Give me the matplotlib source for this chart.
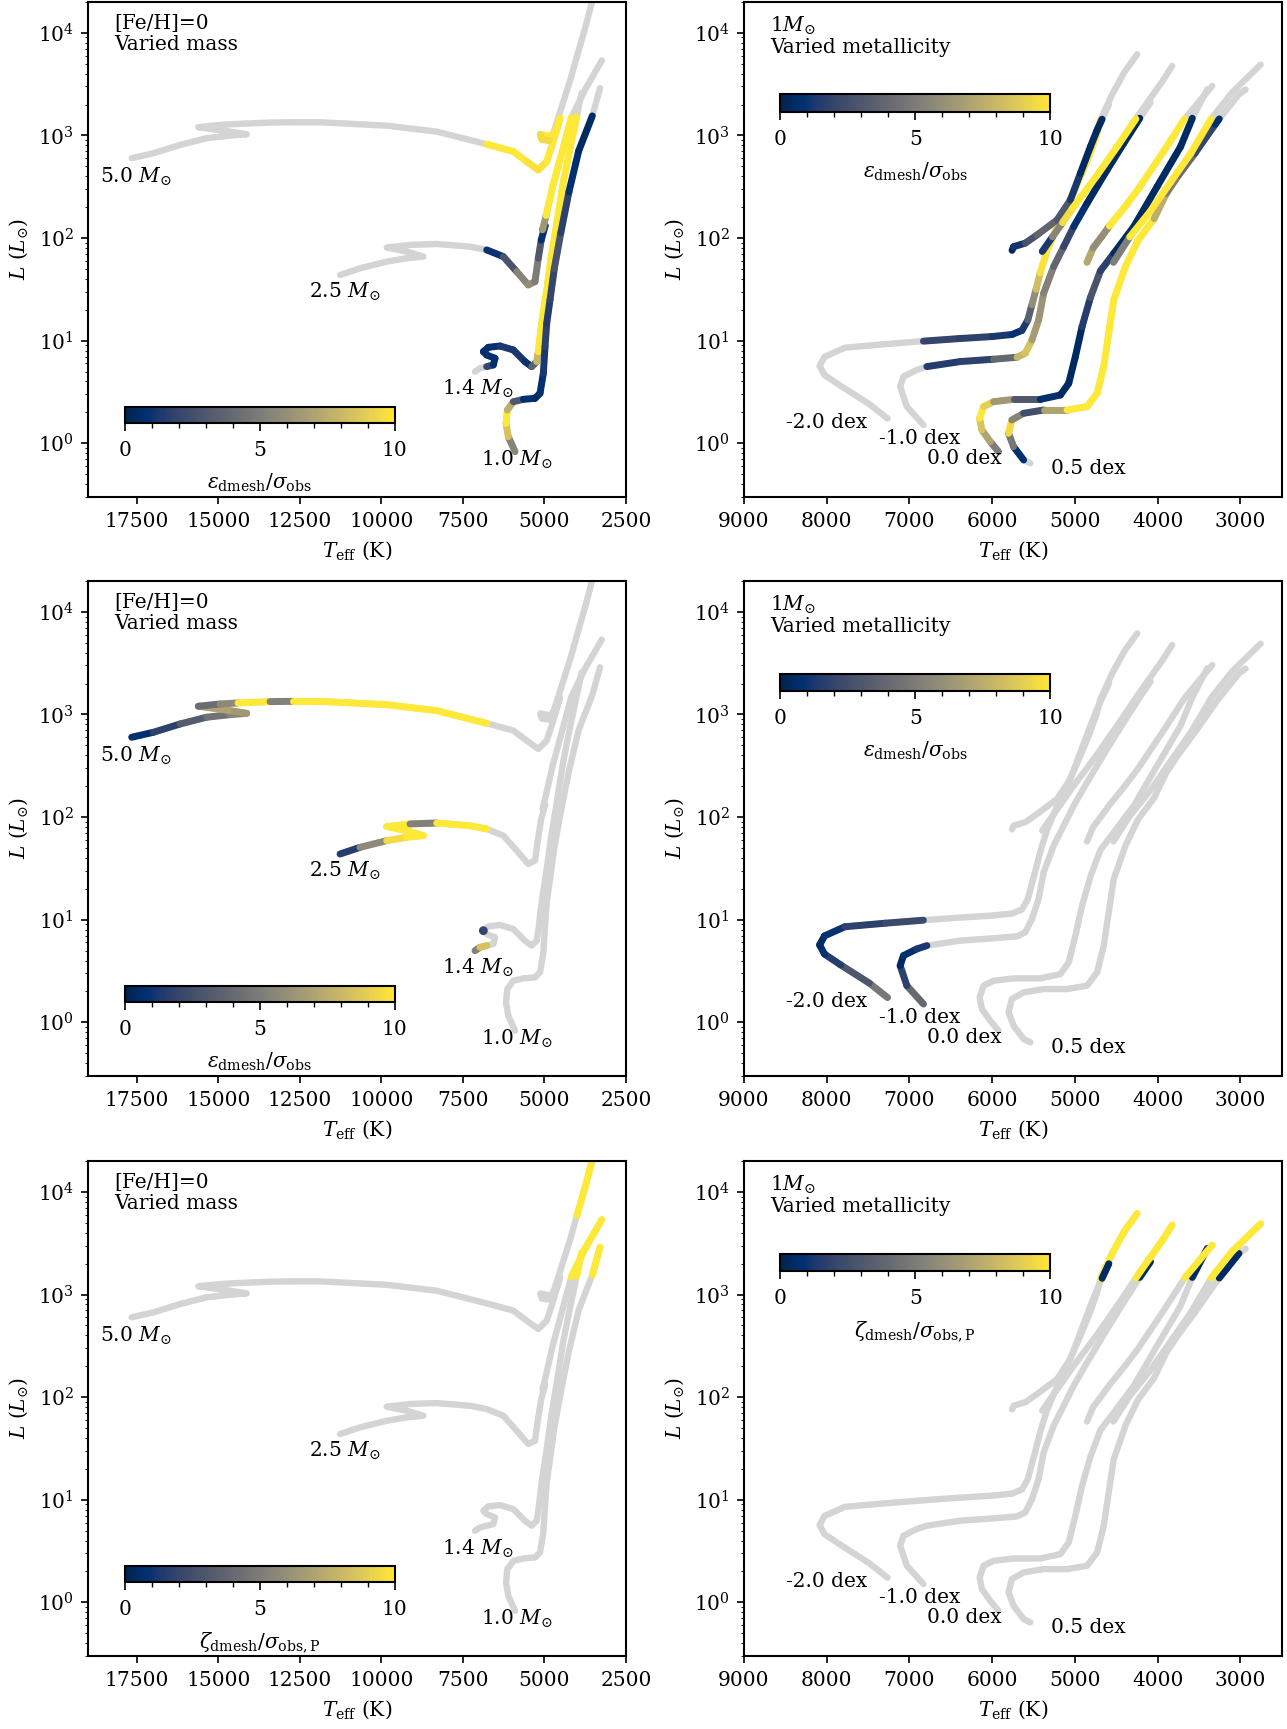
import numpy as np
import matplotlib.pyplot as plt
from matplotlib.collections import LineCollection
from matplotlib.cm import ScalarMappable
from matplotlib.colors import Normalize
from matplotlib.ticker import MultipleLocator

plt.rcParams['font.family'] = ['DejaVu Serif']
plt.rcParams['mathtext.fontset'] = 'dejavuserif'
plt.rcParams['font.size'] = 14.5
plt.rcParams['xtick.major.size'] = 5
plt.rcParams['ytick.major.size'] = 5
plt.rcParams['xtick.major.pad'] = 6
plt.rcParams['ytick.major.pad'] = 5
plt.rcParams['xtick.major.width'] = 1.2
plt.rcParams['ytick.major.width'] = 1.2
plt.rcParams['axes.labelpad'] = 6

nan = np.nan

# ---------------- varied mass tracks ([Fe/H]=0) ----------------
# Teff (K), log10 L/Lsun, colour value for row 1, row 2, row 3 (nan = grey only)
m50_teff = [17660, 16997, 16178, 15360, 14645, 14133, 14700, 15617, 14952, 14400, 13418, 13045,
            12700, 11885, 9839, 8305, 6772, 5955, 5546, 5190, 4932, 4730, 4525, 4640, 4800,
            5130, 5080, 4850, 4700, 4420, 4200, 4006, 3750, 3543, 3300]
m50_logl = [2.778, 2.826, 2.907, 2.973, 2.998, 3.011, 3.040, 3.080, 3.102, 3.112, 3.125, 3.127,
            3.128, 3.128, 3.095, 3.037, 2.914, 2.843, 2.745, 2.664, 2.745, 2.940, 3.167, 3.05, 2.99,
            3.01, 2.96, 2.95, 3.05, 3.33, 3.55, 3.77, 4.05, 4.30, 4.61]
m50_row1 = [nan] * 16 + [10, 10, 10, 9.5, 10, 10, 10, 10, 10, 10, 9, 10] + [nan] * 7
m50_row2 = [0.5, 1, 2.5, 4, 5, 6, 7, 7, 1.5, 10, 10, 0.5, 10, 10, 10, 10, 10] + [nan] * 18
m50_row3 = [nan] * 31 + [10, 10, 10, 10]

m25_teff = [11271, 10658, 9839, 9226, 8714, 9226, 9839, 9124, 8525, 8305, 7284, 6772, 6262,
            5853, 5497, 5292, 5190, 5100, 4980, 5060, 4950, 4750, 4450, 4180, 3750, 3242]
m25_logl = [1.640, 1.705, 1.770, 1.803, 1.819, 1.868, 1.907, 1.933, 1.940, 1.942, 1.916, 1.884,
            1.819, 1.673, 1.543, 1.575, 1.803, 1.98, 2.12, 2.08, 2.22, 2.50, 2.85, 3.17, 3.45, 3.73]
m25_row1 = [nan] * 11 + [0.5, 1.5, 4, 7, 5, 5, 1, 0.5, 3, 10, 10, 10, 10, nan, nan]
m25_row2 = [0.5, 2.5, 9, 10, 10, 10, 10, 10, 0.5, 10, 10, 10] + [nan] * 14
m25_row3 = [nan] * 23 + [10, 10, 10]

m14_teff = [7131, 6977, 6772, 6568, 6517, 6772, 6875, 6722, 6364, 5955, 5598, 5393, 5240, 5190,
            5088, 4932, 4800, 4620, 4420, 4200, 4013, 3860]
m14_logl = [0.698, 0.731, 0.747, 0.763, 0.828, 0.860, 0.893, 0.935, 0.948, 0.909, 0.795, 0.747,
            0.795, 0.893, 1.169, 1.494, 1.80, 2.15, 2.55, 2.90, 3.18, 3.41]
m14_row1 = [nan, nan, 3, 1, 0.5, 1, 1, 0.5, 1, 1.5, 1, 1, 6, 10, 10, 10, 10, 10, 10, 10, 10, nan]
m14_row2 = [1.5, 9, 8, nan, nan, nan, 2] + [nan] * 15
m14_row3 = [nan] * 20 + [10, 10]

m10_teff = [5904, 6109, 6180, 6140, 5955, 5648, 5290, 5137, 5035, 4984, 4932, 4830, 4700, 4500,
            4250, 3950, 3533, 3297]
m10_logl = [-0.082, 0.064, 0.194, 0.324, 0.405, 0.428, 0.438, 0.487, 0.682, 0.941, 1.169, 1.397,
            1.70, 2.05, 2.45, 2.85, 3.19, 3.46]
m10_row1 = [4, 7, 10, 10, 5, 1, 0.5, 0.5, 1, 1.5, 2, 1, 3, 2.5, 1, 0.5, 0.5, nan]
m10_row2 = [nan] * 18
m10_row3 = [nan] * 16 + [10, 10]

mass_labels = ['5.0 $M_{\\odot}$', '2.5 $M_{\\odot}$', '1.4 $M_{\\odot}$', '1.0 $M_{\\odot}$']
mass_label_teff = [18620, 12228, 8137, 6953]
mass_label_logl = [2.600, 1.472, 0.526, -0.162]

# ---------------- varied metallicity tracks (1 Msun) ----------------
z20_teff = [7264, 7485, 7830, 8026, 8085, 8026, 7780, 7289, 6831, 6400, 6000, 5760, 5640, 5570,
            5520, 5470, 5420, 5340, 5230, 5100, 4960, 4830, 4740, 4692, 4550, 4400, 4248]
z20_logl = [0.241, 0.382, 0.559, 0.665, 0.754, 0.842, 0.931, 0.966, 0.995, 1.020, 1.040, 1.060,
            1.100, 1.200, 1.350, 1.500, 1.660, 1.870, 2.080, 2.300, 2.550, 2.800, 3.000, 3.150,
            3.400, 3.620, 3.790]
z20_row1 = [nan] * 8 + [2, 2, 1.5, 1, 0.5, 2, 5, 7, 9.5, 10, 10, 10, 10, 10, 10, 10, nan, nan, nan]
z20_row2 = [5.5, 4, 2, 1, 0.5, 0.5, 1.5, 2, 2.5] + [nan] * 18
z20_row3 = [nan] * 23 + [10, 10, 10, 10]

a20_teff = [5760, 5741, 5600, 5458, 5216, 5055, 4934, 4813, 4732, 4672, 4590]
a20_logl = [1.880, 1.916, 1.950, 2.030, 2.176, 2.371, 2.631, 2.890, 3.053, 3.158, 3.300]
a20_row1 = [0.3, 0.3, 2, 3.5, 4, 2, 0.5, 0.5, 0.5, 0.5, nan]
a20_row2 = [nan] * 11
a20_row3 = [nan] * 9 + [0.5, 0.5]

z10_teff = [6830, 7031, 7112, 7072, 6910, 6789, 6386, 5983, 5700, 5600, 5519, 5439, 5378, 5257,
            5136, 5015, 4853, 4611, 4410, 4217, 4087]
z10_logl = [0.178, 0.357, 0.552, 0.650, 0.715, 0.747, 0.796, 0.819, 0.838, 0.877, 1.007, 1.202,
            1.462, 1.722, 1.916, 2.111, 2.339, 2.664, 2.924, 3.167, 3.320]
z10_row1 = [nan] * 5 + [1.5, 1.5, 2, 6, 10, 7, 6.5, 6, 4.5, 3, 1, 0.5, 0.5, 0.5, 0.5, nan]
z10_row2 = [5, 3, 0.5, 0.5, 1, 1.5] + [nan] * 15
z10_row3 = [nan] * 19 + [0.5, 0.5]

a10_teff = [5395, 5272, 5150, 5026, 4880, 4731, 4485, 4264, 4100, 3950, 3825]
a10_logl = [1.869, 2.011, 2.150, 2.294, 2.450, 2.612, 2.896, 3.161, 3.350, 3.520, 3.677]
a10_row1 = [0.5, 2, 9, 10, 10, 10, 10, 10, nan, nan, nan]
a10_row2 = [nan] * 11
a10_row3 = [nan] * 7 + [10, 10, 10, 10]

z00_teff = [5923, 6023, 6124, 6152, 6104, 5983, 5741, 5418, 5176, 5075, 4995, 4914, 4813, 4692,
            4531, 4289, 4007, 3724, 3582, 3400]
z00_logl = [-0.082, 0.015, 0.130, 0.243, 0.357, 0.405, 0.428, 0.428, 0.470, 0.584, 0.844, 1.136,
            1.420, 1.680, 1.850, 2.111, 2.501, 2.890, 3.167, 3.450]
z00_row1 = [3, 7, 7, 10, 10, 8, 5, 1, 0.5, 0.5, 0.5, 0.5, 2.5, 3, 0.5, 0.5, 0.5, 0.5, 0.5, nan]
z00_row2 = [nan] * 20
z00_row3 = [nan] * 18 + [0.5, 0.5]

a00_teff = [4854, 4780, 4680, 4584, 4400, 4239, 3944, 3674, 3500, 3341]
a00_logl = [1.763, 1.904, 2.010, 2.117, 2.300, 2.471, 2.825, 3.161, 3.330, 3.482]
a00_row1 = [4.5, 10, 2, 10, 10, 10, 10, 10, nan, nan]
a00_row2 = [nan] * 10
a00_row3 = [nan] * 7 + [10, 10, 10]

z05_teff = [5539, 5620, 5741, 5802, 5762, 5620, 5378, 5095, 4853, 4732, 4652, 4592, 4531, 4387,
            4239, 4043, 3895, 3748, 3551, 3305, 3256, 3019, 2938]
z05_logl = [-0.195, -0.163, -0.033, 0.097, 0.227, 0.292, 0.324, 0.324, 0.357, 0.487, 0.747, 1.072,
            1.397, 1.727, 1.975, 2.188, 2.435, 2.612, 2.825, 3.108, 3.161, 3.400, 3.447]
z05_row1 = [nan, 1, 0.5, 9, 10, 1, 4, 10, 10, 10, 10, 10, 10, 10, 10, 10, 5, 5, 3, 1, 0.5, nan, nan]
z05_row2 = [nan] * 23
z05_row3 = [nan] * 20 + [0.5, 0.5, nan]

a05_teff = [4535, 4338, 4092, 3846, 3600, 3354, 3100, 2756]
a05_logl = [1.763, 2.011, 2.258, 2.542, 2.825, 3.161, 3.420, 3.690]
a05_row1 = [0.3, 10, 10, 10, 10, 10, nan, nan]
a05_row2 = [nan] * 8
a05_row3 = [nan] * 5 + [10, 10, 10]

feh_labels = ['-2.0 dex', '-1.0 dex', '0.0 dex', '0.5 dex']
feh_label_teff = [8488, 7368, 6793, 5285]
feh_label_logl = [0.204, 0.043, -0.151, -0.248]

mass_tracks = [
    (m50_teff, m50_logl, m50_row1, m50_row2, m50_row3),
    (m25_teff, m25_logl, m25_row1, m25_row2, m25_row3),
    (m14_teff, m14_logl, m14_row1, m14_row2, m14_row3),
    (m10_teff, m10_logl, m10_row1, m10_row2, m10_row3),
]
feh_tracks = [
    (z20_teff, z20_logl, z20_row1, z20_row2, z20_row3),
    (a20_teff, a20_logl, a20_row1, a20_row2, a20_row3),
    (z10_teff, z10_logl, z10_row1, z10_row2, z10_row3),
    (a10_teff, a10_logl, a10_row1, a10_row2, a10_row3),
    (z00_teff, z00_logl, z00_row1, z00_row2, z00_row3),
    (a00_teff, a00_logl, a00_row1, a00_row2, a00_row3),
    (z05_teff, z05_logl, z05_row1, z05_row2, z05_row3),
    (a05_teff, a05_logl, a05_row1, a05_row2, a05_row3),
]

cbar_labels = [r'$\varepsilon_{\rm dmesh}/\sigma_{\rm obs}$',
               r'$\varepsilon_{\rm dmesh}/\sigma_{\rm obs}$',
               r'$\zeta_{\rm dmesh}/\sigma_{\rm obs,P}$']

cmap = plt.get_cmap('cividis')
norm = Normalize(vmin=0, vmax=10)
GREY = '#d4d4d4'


def draw_grey(ax, teff, logl):
    ax.plot(teff, 10 ** np.array(logl), color=GREY, lw=4.6, solid_capstyle='round',
            solid_joinstyle='round', zorder=1)


def draw_colour(ax, teff, logl, vals):
    t = np.array(teff, float)
    L = 10 ** np.array(logl, float)
    v = np.array(vals, float)
    segs, cols = [], []
    for i in range(len(t) - 1):
        if np.isfinite(v[i]) and np.isfinite(v[i + 1]):
            segs.append([(t[i], L[i]), (t[i + 1], L[i + 1])])
            cols.append(0.5 * (v[i] + v[i + 1]))
    if segs:
        lc = LineCollection(segs, cmap=cmap, norm=norm, linewidths=5.0, capstyle='round',
                            joinstyle='round', zorder=2)
        lc.set_array(np.array(cols))
        ax.add_collection(lc)
    # lone coloured points
    for i in range(len(t)):
        if not np.isfinite(v[i]):
            continue
        left = i > 0 and np.isfinite(v[i - 1])
        right = i < len(t) - 1 and np.isfinite(v[i + 1])
        if not left and not right:
            ax.scatter([t[i]], [L[i]], c=[v[i]], cmap=cmap, norm=norm, s=40, zorder=3,
                       edgecolors='none')


fig = plt.figure(figsize=(12.87, 17.29), dpi=100)
row_bottoms = [0.7126, 0.3777, 0.0422]
col_lefts = [0.0684, 0.578]
w, h = 0.418, 0.2863

for r in range(3):
    for c in range(2):
        ax = fig.add_axes([col_lefts[c], row_bottoms[r], w, h])
        ax.set_yscale('log')
        ax.set_ylim(0.3, 2e4)
        if c == 0:
            ax.set_xlim(19000, 2500)
            ax.xaxis.set_major_locator(MultipleLocator(2500))
            tracks = mass_tracks
        else:
            ax.set_xlim(9000, 2500)
            ax.xaxis.set_major_locator(MultipleLocator(1000))
            tracks = feh_tracks
        for tr in tracks:
            draw_grey(ax, tr[0], tr[1])
        for tr in tracks:
            draw_colour(ax, tr[0], tr[1], tr[2 + r])

        ax.set_xlabel(r'$T_{\rm eff}$ (K)')
        ax.set_ylabel(r'$L$ ($L_{\odot}$)')
        for sp in ax.spines.values():
            sp.set_linewidth(1.5)

        if c == 0:
            ax.text(0.049, 0.975, '[Fe/H]=0\nVaried mass', transform=ax.transAxes,
                    ha='left', va='top', linespacing=1.1)
            for lab, lt, ll in zip(mass_labels, mass_label_teff, mass_label_logl):
                ax.text(lt, 10 ** ll, lab, ha='left', va='center')
            cax = ax.inset_axes([0.068, 0.149, 0.502, 0.033])
        else:
            ax.text(0.049, 0.975, '1$M_{\\odot}$\nVaried metallicity', transform=ax.transAxes,
                    ha='left', va='top', linespacing=1.1)
            for lab, lt, ll in zip(feh_labels, feh_label_teff, feh_label_logl):
                ax.text(lt, 10 ** ll, lab, ha='left', va='center')
            cax = ax.inset_axes([0.068, 0.777, 0.501, 0.036])

        cb = fig.colorbar(ScalarMappable(norm=norm, cmap=cmap), cax=cax, orientation='horizontal')
        cb.set_ticks([0, 5, 10])
        cax.xaxis.set_minor_locator(MultipleLocator(1))
        cax.tick_params(which='major', length=6, width=1.2, pad=7)
        cax.tick_params(which='minor', length=3.5, width=1.0)
        cb.outline.set_linewidth(1.5)
        cb.set_label(cbar_labels[r], labelpad=8)

fig.savefig('out.png', dpi=100)
